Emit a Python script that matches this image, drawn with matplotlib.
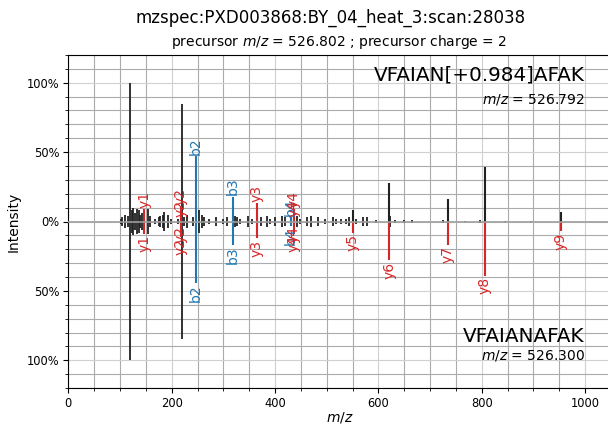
import numpy as np
import matplotlib
matplotlib.use("Agg")
import matplotlib.pyplot as plt
from matplotlib.ticker import AutoMinorLocator, FuncFormatter, MultipleLocator

title = "mzspec:PXD003868:BY_04_heat_3:scan:28038"
subtitle = "precursor $m/z$ = 526.802 ; precursor charge = 2"
top_peptide = "VFAIAN[+0.984]AFAK"
top_mz_text = "$m/z$ = 526.792"
bottom_peptide = "VFAIANAFAK"
bottom_mz_text = "$m/z$ = 526.300"

# unannotated peaks, shared by both spectra (mirrored)
noise_mz = [101.1, 104.0, 110.1, 115.1, 120.08, 123.0, 126.1, 129.1, 132.0,
            136.1, 139.0, 143.1, 155.0, 158.1, 168.1, 175.1, 178.0,
            183.1, 186.1, 193.1, 199.1, 212.1, 219.15, 224.1, 230.1,
            242.0, 252.1, 258.1, 262.1, 272.1, 286.1, 300.1,
            307.1, 322.2, 327.1, 333.1, 347.2, 355.2, 372.2,
            385.2, 391.2, 400.2, 413.2, 419.2, 443.2, 449.2,
            462.2, 470.3, 483.3, 497.3, 512.3, 518.3,
            528.3, 537.3, 543.3, 557.3, 570.3, 577.3,
            595.3, 622.3, 632.3, 650.3, 664.4, 725.4,
            735.4, 768.4, 797.4, 806.5, 845.5, 895.5, 953.5]
noise_int = [0.02, 0.03, 0.05, 0.04, 1.00, 0.08, 0.10, 0.06, 0.09,
             0.08, 0.05, 0.06, 0.09, 0.04, 0.02, 0.03, 0.04,
             0.05, 0.07, 0.05, 0.02, 0.02, 0.85, 0.03, 0.05,
             0.03, 0.08, 0.05, 0.03, 0.02, 0.03, 0.02,
             0.03, 0.04, 0.03, 0.02, 0.04, 0.02, 0.03,
             0.04, 0.02, 0.03, 0.04, 0.03, 0.04, 0.02,
             0.03, 0.04, 0.03, 0.02, 0.03, 0.02,
             0.02, 0.02, 0.03, 0.02, 0.03, 0.03,
             0.01, 0.04, 0.01, 0.01, 0.01, 0.01,
             0.03, 0.005, 0.01, 0.06, 0.005, 0.005, 0.02]

# peaks that are fragment ions only for the unmodified (bottom) peptide
top_plain_mz = [550.30, 621.34, 734.42, 805.46, 952.53]
top_plain_int = [0.085, 0.28, 0.165, 0.39, 0.07]

top_ion_mz = [147.11, 217.6, 218.15, 247.14, 318.18, 365.22, 431.27, 436.26, 436.6]
top_ion_int = [0.09, 0.02, 0.11, 0.47, 0.18, 0.13, 0.03, 0.02, 0.09]
top_ion_lbl = ["y1", "y2", "y2", "b2", "b3", "y3", "b4", "y4", "y4"]

bottom_ion_mz = [147.11, 217.6, 218.15, 247.14, 318.18, 365.22, 431.27, 436.26, 436.6,
                 550.30, 621.34, 734.42, 805.46, 952.53]
bottom_ion_int = [0.09, 0.02, 0.11, 0.44, 0.17, 0.12, 0.03, 0.02, 0.09,
                  0.08, 0.28, 0.17, 0.39, 0.07]
bottom_ion_lbl = ["y1", "y2", "y2", "b2", "b3", "y3", "b4", "y4", "y4",
                  "y5", "y6", "y7", "y8", "y9"]

ion_colors = {"b": "#1f77b4", "y": "#d62728"}

fig = plt.figure(figsize=(6.08, 4.25), dpi=100)
ax = fig.add_axes([68.3 / 608, 37 / 425, 543.7 / 608, 333 / 425])

# plain peaks
ax.vlines(noise_mz, 0, noise_int, color="#212121", lw=1.3, zorder=2)
ax.vlines(noise_mz, 0, [-i for i in noise_int], color="#212121", lw=1.3, zorder=2)
ax.vlines(top_plain_mz, 0, top_plain_int, color="#212121", lw=1.5, zorder=2)

# annotated peaks
for mz, inten, lbl in zip(top_ion_mz, top_ion_int, top_ion_lbl):
    c = ion_colors[lbl[0]]
    ax.vlines(mz, 0, inten, color=c, lw=1.5, zorder=3)
    ax.text(mz, inten + 0.01, lbl, color=c, rotation=90, ha="center", va="bottom",
            fontsize=10, zorder=4)
for mz, inten, lbl in zip(bottom_ion_mz, bottom_ion_int, bottom_ion_lbl):
    c = ion_colors[lbl[0]]
    ax.vlines(mz, 0, -inten, color=c, lw=1.5, zorder=3)
    ax.text(mz, -inten - 0.01, lbl, color=c, rotation=90, ha="center", va="top",
            fontsize=10, zorder=4)

ax.axhline(0, color="#9E9E9E", lw=1.2, zorder=5)

ax.set_xlim(0, 1052)
ax.set_ylim(-1.2, 1.2)
ax.xaxis.set_major_locator(MultipleLocator(200))
ax.xaxis.set_minor_locator(AutoMinorLocator(4))
ax.yaxis.set_major_locator(MultipleLocator(0.5))
ax.yaxis.set_minor_locator(AutoMinorLocator(5))
ax.yaxis.set_major_formatter(FuncFormatter(lambda v, p: "%d%%" % round(abs(v) * 100)))
ax.tick_params(axis="both", which="major", labelsize=8.3, length=3.5, pad=3)
ax.tick_params(axis="both", which="minor", length=2)
ax.grid(True, which="major", color="#d0d0d0", lw=0.8)
ax.grid(True, which="minor", color="#ababab", lw=0.8)
ax.set_axisbelow(True)
ax.set_xlabel("$m/z$", fontsize=10, labelpad=0)
ax.set_ylabel("Intensity", fontsize=10, labelpad=4)

ax.text(0.95, 0.967, top_peptide, transform=ax.transAxes, ha="right", va="top", fontsize=14.4)
ax.text(0.95, 0.89, top_mz_text, transform=ax.transAxes, ha="right", va="top", fontsize=10)
ax.text(0.95, 0.138, bottom_peptide, transform=ax.transAxes, ha="right", va="baseline", fontsize=14.4)
ax.text(0.95, 0.087, bottom_mz_text, transform=ax.transAxes, ha="right", va="baseline", fontsize=10)

fig.text(331 / 608, 1 - 18 / 425, title, ha="center", va="center", fontsize=12)
fig.text(339.5 / 608, 1 - 42 / 425, subtitle, ha="center", va="center", fontsize=10)

fig.savefig("out.png", dpi=100)
